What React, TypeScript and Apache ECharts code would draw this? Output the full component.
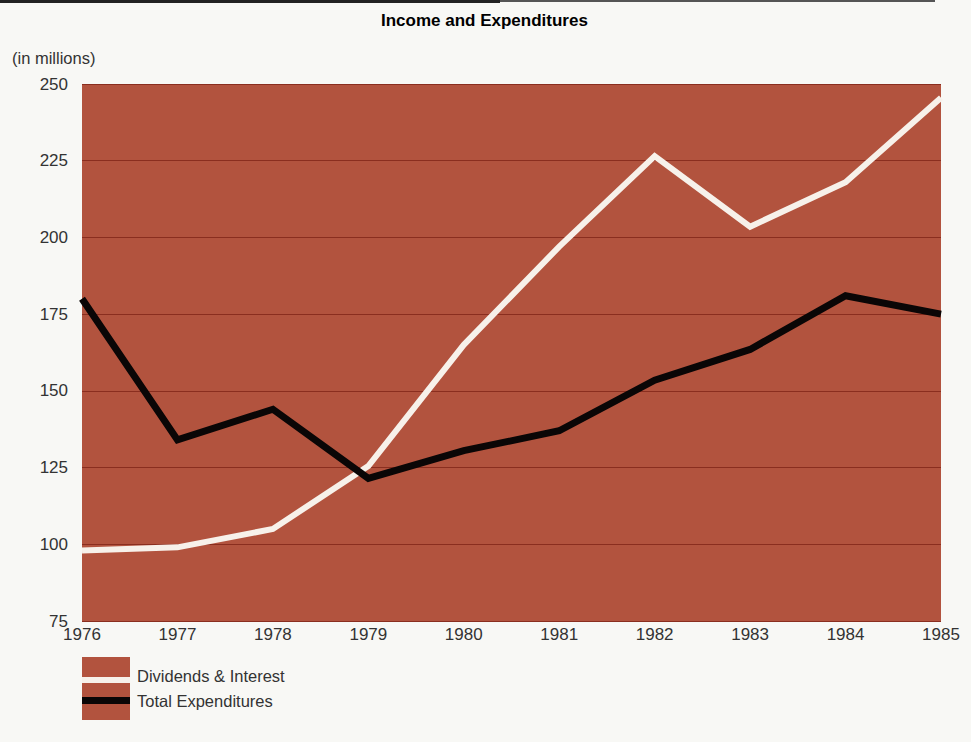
import React, { useEffect, useRef } from "react";
import * as echarts from "echarts";

const years = ["1976", "1977", "1978", "1979", "1980", "1981", "1982", "1983", "1984", "1985"];
const dividendsInterest = [98, 99, 105, 125.5, 165, 197, 226.5, 203.5, 218, 245.5];
const totalExpenditures = [180, 134, 144, 121.5, 130.5, 137, 153.5, 163.5, 181, 175];
const seriesNames = ["Dividends & Interest", "Total Expenditures"];

const FONT = "'Liberation Sans', Arial, sans-serif";
const BROWN = "#b2533e";
const GRID = "#8a2e1f";

export default function App() {
  const ref = useRef<HTMLDivElement>(null);
  useEffect(() => {
    if (!ref.current) return;
    const chart = echarts.init(ref.current, undefined, { renderer: "svg" });
    chart.setOption({
      animation: false,
      backgroundColor: "#f8f8f5",
      title: {
        text: "Income and Expenditures",
        left: 376,
        top: 7,
        textStyle: { fontFamily: FONT, fontSize: 17, fontWeight: 900, color: "#000" },
      },
      grid: {
        left: 82,
        right: 30,
        top: 84,
        bottom: 121,
        show: true,
        backgroundColor: BROWN,
        borderWidth: 0,
      },
      xAxis: {
        type: "category",
        data: years,
        boundaryGap: false,
        axisLine: { show: false },
        axisTick: { show: false },
        axisLabel: { color: "#333", fontSize: 17, fontFamily: FONT, margin: 5, interval: 0 },
        splitLine: { show: false },
      },
      yAxis: {
        type: "value",
        min: 75,
        max: 250,
        interval: 25,
        axisLine: { show: false },
        axisTick: { show: false },
        axisLabel: { color: "#333", fontSize: 17, fontFamily: FONT, margin: 14, padding: [0, 0, 8, 0] },
        splitLine: { show: true, lineStyle: { color: GRID, width: 1 } },
      },
      series: [
        {
          name: seriesNames[0],
          type: "line",
          data: dividendsInterest,
          symbol: "none",
          lineStyle: { color: "#f7f1ea", width: 6, cap: "butt", join: "miter" },
          z: 3,
        },
        {
          name: seriesNames[1],
          type: "line",
          data: totalExpenditures,
          symbol: "none",
          lineStyle: { color: "#0a0606", width: 7, cap: "butt", join: "miter" },
          z: 4,
        },
      ],
      graphic: [
        { type: "rect", shape: { x: 0, y: 0, width: 500, height: 3 }, style: { fill: "#222" } },
        { type: "rect", shape: { x: 500, y: 0, width: 435, height: 2 }, style: { fill: "#555" } },
        {
          type: "text",
          left: 12,
          top: 49,
          style: { text: "(in millions)", fontSize: 16.5, fontFamily: FONT, fill: "#333" },
        },
        { type: "rect", shape: { x: 82, y: 657, width: 48, height: 63 }, style: { fill: BROWN } },
        { type: "rect", shape: { x: 82, y: 677, width: 48, height: 6 }, style: { fill: "#f7f1ea" } },
        { type: "rect", shape: { x: 82, y: 697, width: 48, height: 7 }, style: { fill: "#0a0606" } },
        {
          type: "text",
          x: 137,
          y: 676,
          style: { text: seriesNames[0], fontSize: 16.5, fontFamily: FONT, fill: "#333", verticalAlign: "middle" },
        },
        {
          type: "text",
          x: 137,
          y: 701,
          style: { text: seriesNames[1], fontSize: 16.5, fontFamily: FONT, fill: "#333", verticalAlign: "middle" },
        },
      ],
    });
    return () => chart.dispose();
  }, []);
  return <div ref={ref} style={{ position: "fixed", left: 0, top: 0, width: 971, height: 742 }} />;
}
